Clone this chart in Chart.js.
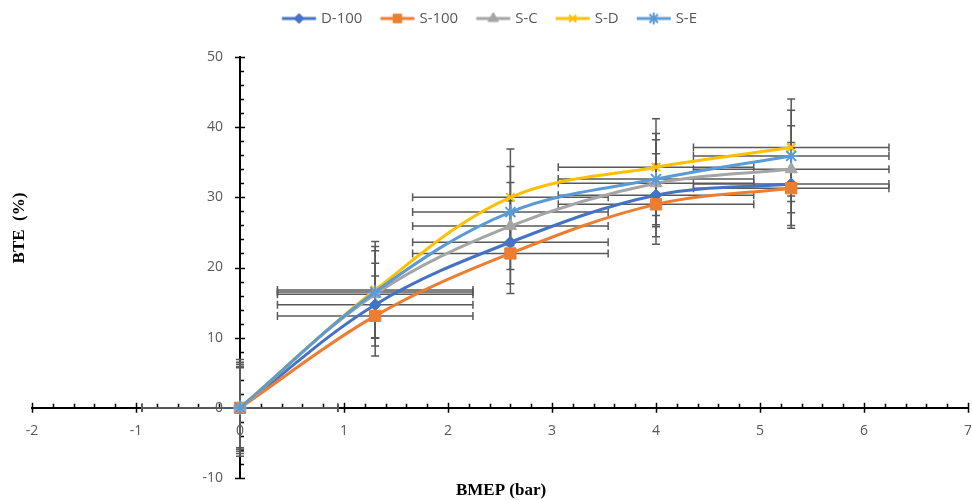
<!DOCTYPE html>
<html>
<head>
<meta charset="utf-8">
<script src="https://cdn.jsdelivr.net/npm/chart.js@4"></script>
<style>
html,body{margin:0;padding:0;background:#ffffff;}
#wrap{width:972px;height:500px;}
</style>
</head>
<body>
<div id="wrap"><canvas id="c" width="972" height="500"></canvas></div>
<script>
// ---- data ----
const bmep = [0, 1.3, 2.6, 4, 5.3];
const seriesNames = ['D-100', 'S-100', 'S-C', 'S-D', 'S-E'];
const bteD100 = [0, 14.7, 23.6, 30.3, 31.9];
const bteS100 = [0, 13.1, 22.0, 29.0, 31.3];
const bteSC   = [0, 16.2, 25.9, 32.0, 34.0];
const bteSD   = [0, 16.8, 30.0, 34.3, 37.1];
const bteSE   = [0, 16.5, 27.9, 32.6, 35.9];
const bmepErr = 0.94;                      // horizontal error bar (±)
const bteErr  = [5.9, 5.7, 6.2, 6.9, 6.5]; // vertical error bar per series (±)
const xAxisTitle = 'BMEP (bar)';
const yAxisTitle = 'BTE  (%)';

// ---- styles ----
const seriesColors = ['#4472C4', '#ED7D31', '#A5A5A5', '#FFC000', '#5B9BD5'];
const seriesMarkers = ['rectRot', 'rect', 'triangle', 'crossRot', 'star'];
const seriesRadius = [6, 8, 7, 6, 7];
const legendRadius = [5, 6, 6, 5, 6];
const TICK_FONT = '"Open Sans", "Liberation Sans", sans-serif';
const TITLE_FONT = '"Liberation Serif", "Times New Roman", serif';
const LEGEND_SHIFT = -14;
const X_LABEL_SHIFT = 15;
const Y_LABEL_SHIFT = -17;

const seriesValues = [bteD100, bteS100, bteSC, bteSD, bteSE];

const datasets = seriesNames.map((name, i) => ({
  label: name,
  data: bmep.map((x, j) => ({ x: x, y: seriesValues[i][j] })),
  borderColor: seriesColors[i],
  backgroundColor: seriesColors[i],
  pointBackgroundColor: seriesColors[i],
  pointBorderColor: seriesColors[i],
  pointStyle: seriesMarkers[i],
  pointRadius: seriesRadius[i],
  pointHoverRadius: seriesRadius[i],
  pointBorderWidth: (seriesMarkers[i] === 'crossRot' || seriesMarkers[i] === 'star') ? 2 : 1,
  borderWidth: 3,
  tension: 0.35,
  fill: false,
  order: seriesNames.length - 1 - i,
  errY: bteErr[i]
}));

function makeLegendIcon(i) {
  const W = 60, H = 16;
  const cv = document.createElement('canvas');
  cv.width = W; cv.height = H;
  const g = cv.getContext('2d');
  const a = 17.75, len = 34;
  g.strokeStyle = seriesColors[i];
  g.lineWidth = 3;
  g.beginPath(); g.moveTo(a, H / 2); g.lineTo(a + len, H / 2); g.stroke();
  g.fillStyle = seriesColors[i];
  g.strokeStyle = seriesColors[i];
  g.lineWidth = (seriesMarkers[i] === 'crossRot' || seriesMarkers[i] === 'star') ? 2 : 1;
  Chart.helpers.drawPoint(g, { pointStyle: seriesMarkers[i], radius: legendRadius[i], rotation: 0, borderWidth: g.lineWidth }, a + len / 2, H / 2);
  return cv;
}

const legendPatch = {
  id: 'legendPatch',
  beforeLayout(chart) {
    const lg = chart.legend;
    if (lg && !lg._patched) {
      const origFit = lg.fit;
      lg.fit = function () { origFit.call(this); this.height = 57; };
      const origDraw = lg.draw;
      lg.draw = function () {
        this.left += LEGEND_SHIFT; this.right += LEGEND_SHIFT;
        origDraw.apply(this, arguments);
        this.left -= LEGEND_SHIFT; this.right -= LEGEND_SHIFT;
      };
      lg._patched = true;
    }
  },
  beforeDraw(chart) {
    // offset the tick labels away from the crossing axes
    const xs = chart.scales.x, ys = chart.scales.y;
    const xi = xs.getLabelItems();
    if (!xi._shifted) { xi.forEach(it => { it.options.translation[1] += X_LABEL_SHIFT; }); xi._shifted = true; }
    const yi = ys.getLabelItems();
    if (!yi._shifted) { yi.forEach(it => { it.options.translation[0] += Y_LABEL_SHIFT; }); yi._shifted = true; }
  }
};

const ticksAndErrors = {
  id: 'ticksAndErrors',
  beforeDatasetsDraw(chart) {
    const { ctx, scales: { x, y } } = chart;
    const x0 = x.getPixelForValue(0), y0 = y.getPixelForValue(0);
    ctx.save();
    // tick marks (major crossing outward, minor inside)
    ctx.strokeStyle = '#000000';
    ctx.lineWidth = 1.5;
    ctx.beginPath();
    for (let k = -10; k <= 35; k++) {
      const px = Math.round(x.getPixelForValue(k / 5)) + 0.5;
      if (k % 5 === 0) { ctx.moveTo(px, y0 - 5); ctx.lineTo(px, y0 + 5); }
      else { ctx.moveTo(px, y0); ctx.lineTo(px, y0 - 4); }
    }
    for (let k = -5; k <= 25; k++) {
      const py = Math.round(y.getPixelForValue(k * 2)) + 0.5;
      if (k % 5 === 0) { ctx.moveTo(x0 - 5, py); ctx.lineTo(x0 + 5, py); }
      else { ctx.moveTo(x0, py); ctx.lineTo(x0 + 4, py); }
    }
    ctx.stroke();
    // error bars
    ctx.strokeStyle = '#595959';
    ctx.lineWidth = 1.5;
    const cap = 4;
    chart.data.datasets.forEach((ds) => {
      ds.data.forEach((p) => {
        const px = x.getPixelForValue(p.x), py = y.getPixelForValue(p.y);
        const xl = x.getPixelForValue(p.x - bmepErr), xr = x.getPixelForValue(p.x + bmepErr);
        const yt = y.getPixelForValue(p.y + ds.errY), yb = y.getPixelForValue(p.y - ds.errY);
        ctx.beginPath();
        ctx.moveTo(xl, py); ctx.lineTo(xr, py);
        ctx.moveTo(xl, py - cap); ctx.lineTo(xl, py + cap);
        ctx.moveTo(xr, py - cap); ctx.lineTo(xr, py + cap);
        ctx.moveTo(px, yt); ctx.lineTo(px, yb);
        ctx.moveTo(px - cap, yt); ctx.lineTo(px + cap, yt);
        ctx.moveTo(px - cap, yb); ctx.lineTo(px + cap, yb);
        ctx.stroke();
      });
    });
    ctx.restore();
  },
  afterDraw(chart) {
    const { ctx } = chart;
    ctx.save();
    ctx.fillStyle = '#000000';
    ctx.font = 'bold 17px ' + TITLE_FONT;
    ctx.textAlign = 'center';
    ctx.textBaseline = 'middle';
    ctx.fillText(xAxisTitle, 501, 491);
    ctx.translate(20, 228);
    ctx.rotate(-Math.PI / 2);
    ctx.fillText(yAxisTitle, 0, 0);
    ctx.restore();
  }
};

new Chart(document.getElementById('c'), {
  type: 'line',
  data: { datasets: datasets },
  options: {
    responsive: false,
    animation: false,
    devicePixelRatio: 1,
    layout: { autoPadding: false, padding: { left: 32, right: 4, top: 0, bottom: 22 } },
    plugins: {
      tooltip: { enabled: false },
      legend: {
        display: true,
        position: 'top',
        align: 'center',
        labels: {
          usePointStyle: true,
          pointStyleWidth: 38.5,
          padding: 11,
          color: '#595959',
          font: { family: TICK_FONT, size: 15 },
          generateLabels(chart) {
            return chart.data.datasets.map((ds, i) => ({
              text: ds.label,
              pointStyle: makeLegendIcon(i),
              fillStyle: seriesColors[i],
              strokeStyle: seriesColors[i],
              lineWidth: 0,
              fontColor: '#595959',
              hidden: false,
              datasetIndex: i
            }));
          }
        }
      }
    },
    scales: {
      x: {
        type: 'linear',
        position: { y: 0 },
        min: -2, max: 7,
        afterFit(scale) { scale.paddingRight = 4; scale.paddingLeft = 4; },
        ticks: { stepSize: 1, color: '#595959', padding: 0, font: { family: TICK_FONT, size: 14 } },
        grid: { display: true, drawOnChartArea: false, drawTicks: false },
        border: { display: true, color: '#000000', width: 2 }
      },
      y: {
        type: 'linear',
        position: { x: 0 },
        min: -10, max: 50,
        afterFit(scale) { scale.paddingRight = 0; scale.paddingLeft = 0; },
        ticks: { stepSize: 10, color: '#595959', padding: 0, font: { family: TICK_FONT, size: 14 } },
        grid: { display: true, drawOnChartArea: false, drawTicks: false },
        border: { display: true, color: '#000000', width: 2 }
      }
    }
  },
  plugins: [legendPatch, ticksAndErrors]
});
</script>
</body>
</html>
